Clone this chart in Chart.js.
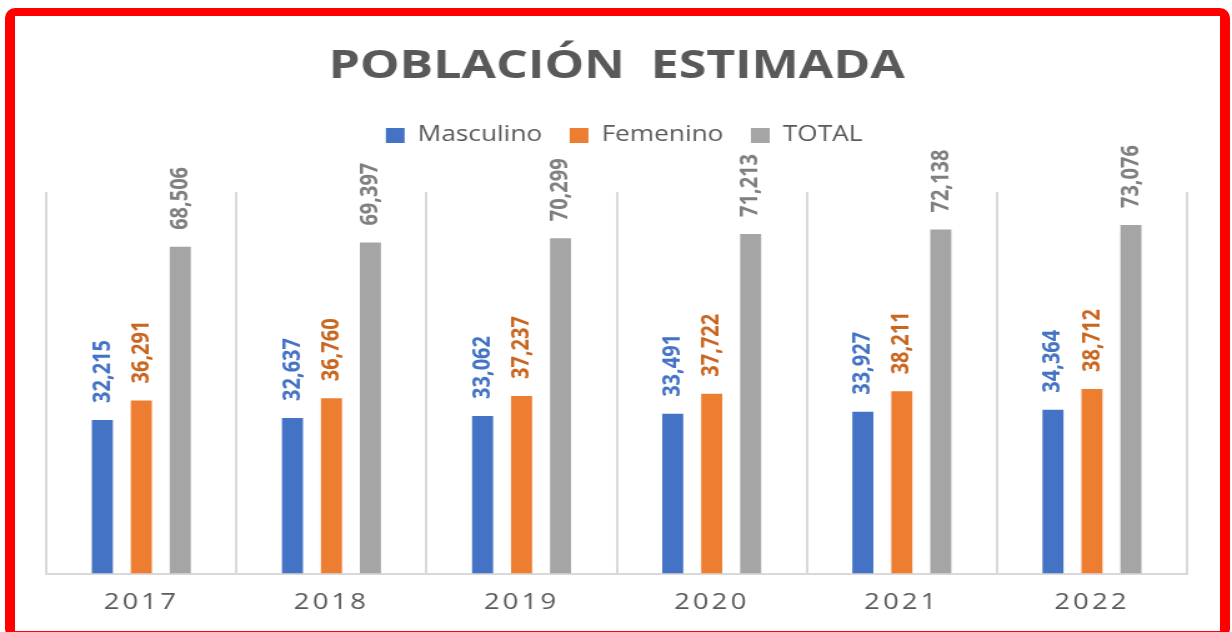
<!DOCTYPE html>
<html>
<head>
<meta charset="utf-8">
<script src="https://cdn.jsdelivr.net/npm/chart.js@4.4.1/dist/chart.umd.min.js"></script>
<style>
  html, body { margin: 0; padding: 0; background: #ffffff; width: 1232px; height: 632px; overflow: hidden; }
  #frame { position: absolute; left: 5px; top: 8px; width: 1225px; height: 631px; box-sizing: border-box;
           border-style: solid; border-color: #ff0000; border-width: 8px 10px; border-radius: 10px; background: #fff; }
  #c { position: absolute; left: 0; top: 0; width: 1232px; height: 632px; }
</style>
</head>
<body>
<div id="frame"></div>
<canvas id="c" width="986" height="632" style="width:1232px;height:632px"></canvas>
<script>
const titleText = 'POBLACIÓN  ESTIMADA';
const categories = ['2017', '2018', '2019', '2020', '2021', '2022'];
const seriesNames = ['Masculino', 'Femenino', 'TOTAL'];
const masculino = [32215, 32637, 33062, 33491, 33927, 34364];
const femenino = [36291, 36760, 37237, 37722, 38211, 38712];
const total = [68506, 69397, 70299, 71213, 72138, 73076];
const barColors = ['#4472C4', '#ED7D31', '#A5A5A5'];
const labelColors = ['#4472C4', '#C9651F', '#7F7F7F'];

const fmt = v => v.toLocaleString('en-US');

const dataLabels = {
  id: 'dataLabels',
  afterDatasetsDraw(chart) {
    const ctx = chart.ctx;
    ctx.save();
    ctx.letterSpacing = '0px';
    ctx.font = 'bold 20px "Open Sans"';
    ctx.textAlign = 'left';
    ctx.textBaseline = 'middle';
    chart.data.datasets.forEach((ds, di) => {
      const meta = chart.getDatasetMeta(di);
      meta.data.forEach((bar, i) => {
        ctx.save();
        ctx.translate(bar.x, bar.y - 17);
        ctx.rotate(-Math.PI / 2);
        ctx.fillStyle = labelColors[di];
        ctx.fillText(fmt(ds.data[i]), 0, 0);
        ctx.restore();
      });
    });
    ctx.restore();
    // x tick labels are drawn after this (z = 1) with letter spacing
    chart.ctx.letterSpacing = '2.5px';
  },
  afterDraw(chart) { chart.ctx.letterSpacing = '0px'; },
  beforeDraw(chart) { chart.ctx.letterSpacing = '0px'; }
};

const legendTweak = {
  id: 'legendTweak',
  beforeInit(chart) {
    const origFit = chart.legend.fit;
    chart.legend.fit = function () {
      origFit.call(this);
      this.height += 36;
    };
  },
  afterLayout(chart) {
    const lg = chart.legend;
    lg.left += 6;
    lg.right += 6;
  }
};

new Chart(document.getElementById('c'), {
  type: 'bar',
  data: {
    labels: categories,
    datasets: [
      { label: seriesNames[0], data: masculino, backgroundColor: barColors[0] },
      { label: seriesNames[1], data: femenino, backgroundColor: barColors[1] },
      { label: seriesNames[2], data: total, backgroundColor: barColors[2] }
    ]
  },
  options: {
    responsive: false,
    animation: false,
    devicePixelRatio: 1,
    datasets: { bar: { categoryPercentage: 0.615, barPercentage: 0.54 } },
    layout: { padding: { left: 37, right: 36, top: 0, bottom: 0 } },
    plugins: {
      tooltip: { enabled: false },
      title: {
        display: true,
        text: titleText,
        color: '#595959',
        font: { family: '"Open Sans"', size: 40, weight: 'bold', lineHeight: 1.2 },
        padding: { top: 43, bottom: 12 }
      },
      legend: {
        display: true,
        position: 'top',
        labels: {
          color: '#595959',
          font: { family: '"Open Sans"', size: 21 },
          boxWidth: 15,
          boxHeight: 15,
          padding: 22
        }
      }
    },
    scales: {
      x: {
        grid: { display: true, offset: true, color: '#D9D9D9', lineWidth: 2, drawTicks: false },
        border: { display: true, color: '#D9D9D9', width: 2 },
        ticks: { color: '#595959', font: { family: '"Open Sans"', size: 22 }, padding: 16, z: 1, maxRotation: 0 }
      },
      y: {
        display: false,
        min: 0,
        max: 80000
      }
    }
  },
  plugins: [dataLabels, legendTweak]
});
</script>
</body>
</html>
